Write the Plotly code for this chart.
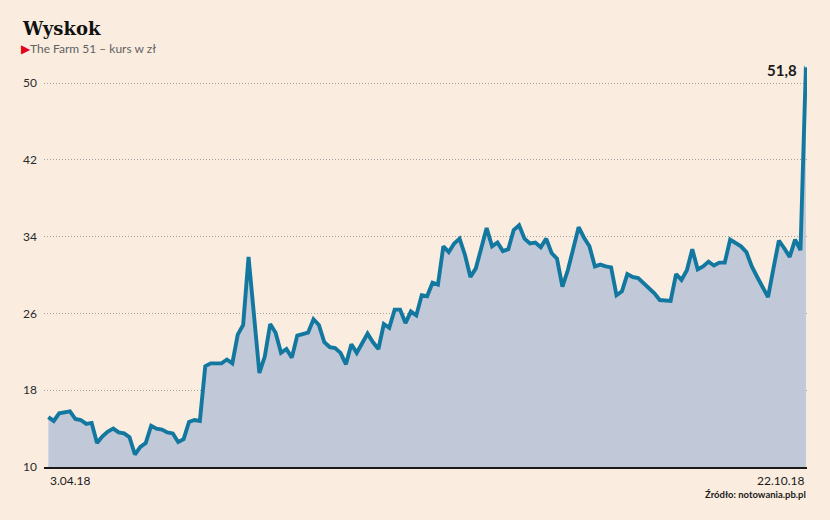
import plotly.graph_objects

# Closing prices of The Farm 51, one value per trading session (3.04.18 - 22.10.18)
prices = [
    15.2, 14.8, 15.6, 15.7, 15.8, 15.0, 14.9, 14.5, 14.6, 12.5,
    13.2, 13.7, 14.0, 13.6, 13.5, 13.1, 11.3, 12.1, 12.5, 14.3,
    14.0, 13.9, 13.6, 13.5, 12.6, 12.9, 14.7, 14.9, 14.8, 20.5,
    20.8, 20.8, 20.8, 21.2, 20.8, 23.8, 24.8, 31.9, 25.8, 19.8,
    21.5, 24.9, 24.0, 21.9, 22.3, 21.4, 23.7, 23.9, 24.0, 25.4,
    24.8, 23.0, 22.5, 22.4, 21.9, 20.7, 22.8, 21.9, 22.9, 23.9,
    23.0, 22.3, 24.9, 24.5, 26.4, 26.4, 25.0, 26.2, 25.8, 27.9,
    27.8, 29.2, 29.0, 33.0, 32.4, 33.3, 33.8, 32.1, 29.8, 30.7,
    32.8, 34.9, 33.0, 33.4, 32.5, 32.7, 34.7, 35.2, 33.8, 33.3,
    33.4, 32.9, 33.8, 32.3, 31.7, 28.8, 30.5, 32.6, 35.0, 33.9,
    33.0, 30.9, 31.1, 30.9, 30.8, 27.9, 28.3, 30.1, 29.8, 29.7,
    29.2, 28.7, 28.1, 27.4, 27.3, 27.3, 30.1, 29.5, 30.5, 32.7,
    30.6, 30.9, 31.4, 31.0, 31.3, 31.3, 33.7, 33.3, 33.0, 32.4,
    30.9, 29.8, 28.8, 27.7, 30.7, 33.6, 32.8, 31.9, 33.7, 32.6,
    51.8,
]
sessions = list(range(len(prices)))

y_ticks = [10, 18, 26, 34, 42, 50]
date_labels = ["3.04.18", "22.10.18"]
last_label = "51,8"

title = "Wyskok"
subtitle = "The Farm 51 – kurs w zł"
source = "Źródło: notowania.pb.pl"

background = "#FAEDE0"
line_color = "#13789F"
fill_color = "#C1C8D8"
font = "Lato"

# Plot area in pixels, used to place the free text around the chart
width, height = 830, 520
left, right, top, bottom = 44, 23, 64, 53

figure = plotly.graph_objects.Figure()

figure.add_trace(plotly.graph_objects.Scatter(
    x=sessions, y=prices,
    mode="lines",
    fill="tozeroy", fillcolor=fill_color,
    line=dict(color=line_color, width=3.9, shape="linear"),
    hoverinfo="y"))

# Tiny light dot on the last (record) session
figure.add_trace(plotly.graph_objects.Scatter(
    x=[sessions[-1]], y=[prices[-1]], mode="markers",
    marker=dict(color="#E8EEF2", size=3), hoverinfo="skip"))

figure.update_xaxes(range=[-0.8, sessions[-1] + 0.2],
                    showgrid=False, zeroline=False, showticklabels=False,
                    showline=True, linecolor="#1a1a1a", linewidth=1.5)

figure.update_yaxes(range=[10, 52], tickvals=y_ticks,
                    showgrid=True, gridcolor="#a3a3a3", gridwidth=1, griddash="1px,2px",
                    zeroline=False, showline=False, ticks="",
                    ticklabelstandoff=6,
                    tickfont=dict(family=font, size=12, color="#2a2a2a"))

# Dates below the first and the last session
for x, text, anchor in [(sessions[0], date_labels[0], "left"),
                        (sessions[-1], date_labels[1], "right")]:
    figure.add_annotation(x=x, y=0, yref="paper", text=text, showarrow=False,
                          xanchor=anchor, yanchor="top", yshift=-4,
                          font=dict(family=font, size=12, color="#1a1a1a"))

# Value of the last session
figure.add_annotation(x=sessions[-1], y=prices[-1], text=f"<b>{last_label}</b>",
                      showarrow=False, xanchor="right", yanchor="middle",
                      xshift=-7, yshift=-4,
                      font=dict(family=font, size=15, color="#1a1a1a"))

# Title, subtitle and source (positions given in pixels, converted below)
texts = [
    (20, 29, f"<b>{title}</b>", "left", dict(family="DejaVu Serif", size=18, color="#111111")),
    (19, 49, f'<span style="color:#E2001A;font-size:12px">▶</span>{subtitle}', "left",
     dict(family=font, size=12, color="#626262")),
    (808, 494, f"<b>{source}</b>", "right", dict(family=font, size=9.5, color="#1a1a1a")),
]
for px, py, text, anchor, text_font in texts:
    figure.add_annotation(x=(px - left) / (width - left - right),
                          y=(height - bottom - py) / (height - top - bottom),
                          xref="paper", yref="paper", text=text, showarrow=False,
                          xanchor=anchor, yanchor="middle", font=text_font)

figure.update_layout(width=width, height=height,
                     margin=dict(l=left, r=right, t=top, b=bottom),
                     paper_bgcolor=background, plot_bgcolor=background,
                     showlegend=False)

figure.write_html("out.html", config=dict(displayModeBar=False),
                  post_script="document.body.style.margin='0';"
                              f"document.body.style.background='{background}';")
